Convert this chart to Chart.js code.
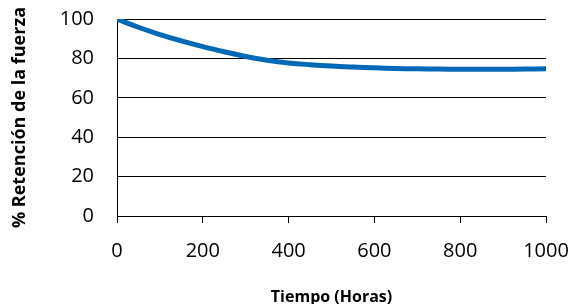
<!DOCTYPE html>
<html>
<head>
<meta charset="utf-8">
<script src="https://cdn.jsdelivr.net/npm/chart.js@4.4.0/dist/chart.umd.min.js"></script>
<style>
  html, body { margin: 0; padding: 0; background: #fff; }
  #wrap { width: 574px; height: 304px; }
</style>
</head>
<body>
<div id="wrap"><canvas id="retention"></canvas></div>
<script>
'use strict';
// data
var hours = [0, 50, 100, 150, 200, 250, 300, 350, 400, 450, 500, 550, 600, 650, 700, 750, 800, 850, 900, 950, 1000];
var retention = [100, 95.8, 92.1, 88.9, 86.0, 83.4, 81.0, 79.1, 77.7, 76.8, 76.1, 75.6, 75.2, 74.9, 74.7, 74.6, 74.5, 74.5, 74.5, 74.6, 74.7];
var xTitle = 'Tiempo (Horas)';
var yTitle = '% Retención de la fuerza';

createRetentionChart();

function createRetentionChart() {
  var ctx = document.getElementById('retention');
  var points = hours.map(function (h, i) {
    return { x: h, y: retention[i] };
  });

  new Chart(ctx, {
    type: 'line',
    data: {
      datasets: [
        {
          data: points,
          borderColor: '#0068b4',
          borderWidth: 5,
          pointRadius: 0,
          tension: 0.4,
          fill: false
        }]
    },
    options: {
      responsive: true,
      maintainAspectRatio: false,
      animation: false,
      layout: {
        padding: { top: 19, right: 28, bottom: 0, left: 0 }
      },
      plugins: {
        legend: { display: false },
        tooltip: { enabled: false }
      },
      scales: {
        x: {
          type: 'linear',
          min: 0,
          max: 1000,
          afterFit: function (scale) { scale.height = 88; },
          border: { display: true, color: '#000', width: 1 },
          grid: {
            drawOnChartArea: false,
            drawTicks: true,
            tickLength: 7,
            color: '#000'
          },
          ticks: {
            stepSize: 200,
            padding: 4,
            color: '#000',
            maxRotation: 0,
            // tall line height pushes the labels down without widening the right padding
            font: { family: 'Open Sans', size: 20, lineHeight: 2.4 },
            callback: function (v) { return String(v); }
          },
          title: {
            display: true,
            text: xTitle,
            color: '#000',
            padding: { top: 0, bottom: -3 },
            font: { family: 'Open Sans', size: 16, weight: 'bold' }
          }
        },
        y: {
          min: 0,
          max: 100,
          afterFit: function (scale) { scale.width = 117; },
          border: { display: true, color: '#000', width: 1 },
          grid: {
            drawTicks: true,
            tickLength: 22,
            tickColor: 'rgba(0,0,0,0)',
            color: '#000',
            lineWidth: 1
          },
          ticks: {
            stepSize: 20,
            padding: 1,
            color: '#000',
            font: { family: 'Open Sans', size: 20 }
          },
          title: {
            display: true,
            text: yTitle,
            color: '#000',
            padding: { top: 9, bottom: 0 },
            font: { family: 'Open Sans', size: 18, weight: 'bold' }
          }
        }
      }
    }
  });
}
</script>
</body>
</html>
